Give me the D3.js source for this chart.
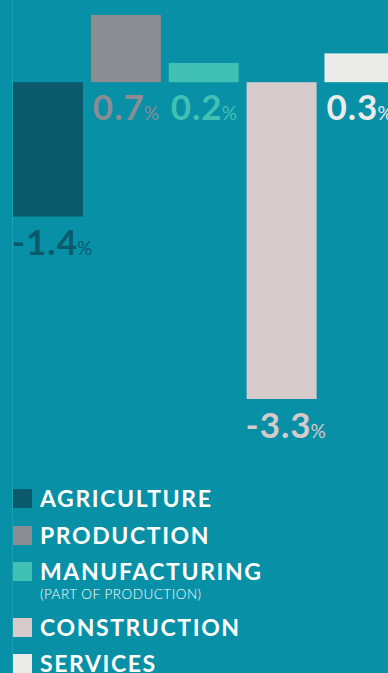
<!DOCTYPE html>
<html>
<head>
<meta charset="utf-8">
<script src="https://cdn.jsdelivr.net/npm/d3@7"></script>
<style>
  html, body { margin: 0; padding: 0; background: #0790a6; overflow: hidden; }
  svg { display: block; }
  text { font-family: Lato, "Open Sans", sans-serif; }
</style>
</head>
<body>
<div id="chart"></div>
<script>
// sector growth, percent
const sectors = ["Agriculture", "Production", "Manufacturing", "Construction", "Services"];
const growth = [-1.4, 0.7, 0.2, -3.3, 0.3];
const colours = ["#0b5a6c", "#8c8c93", "#40c1b3", "#d6cacb", "#ebebea"];
const legendNames = ["AGRICULTURE", "PRODUCTION", "MANUFACTURING", "CONSTRUCTION", "SERVICES"];
const legendNotes = ["", "", "(PART OF PRODUCTION)", "", ""];

let W = 388, H = 673;

let svg = d3.select("#chart")
    .append("svg")
    .attr("width", W)
    .attr("height", H);

svg.append("rect")
    .attr("width", W)
    .attr("height", H)
    .attr("fill", "#0790a6");

// thin lighter rule on the left
svg.append("line")
    .attr("x1", 12.5).attr("x2", 12.5)
    .attr("y1", 0).attr("y2", H)
    .attr("stroke", "#1ca1b4")
    .attr("stroke-width", 1);

let x = d3.scaleBand()
    .domain(sectors)
    .range([13, 393])
    .paddingInner(0.12)
    .paddingOuter(0);

let y = d3.scaleLinear()
    .domain([0.7, -3.3])
    .range([15, 399]);

let data = sectors.map((s, i) => ({name: s, value: growth[i], colour: colours[i]}));

svg.selectAll("rect.bar")
    .data(data)
    .join("rect")
    .attr("class", "bar")
    .attr("x", d => x(d.name))
    .attr("y", d => y(Math.max(0, d.value)))
    .attr("width", 70)
    .attr("height", d => Math.abs(y(d.value) - y(0)))
    .attr("fill", d => d.colour);

// value labels
let labels = svg.selectAll("text.val")
    .data(data)
    .join("text")
    .attr("class", "val")
    .attr("x", d => x(d.name) + (d.value < 0 ? -1 : 2))
    .attr("y", d => d.value < 0 ? y(d.value) + 38.5 : y(0) + 37.5)
    .attr("fill", d => d.colour);

labels.append("tspan")
    .attr("font-size", 35)
    .attr("font-weight", 700)
    .attr("letter-spacing", 1)
    .text(d => d.value.toFixed(1));

labels.append("tspan")
    .attr("font-size", 19)
    .attr("font-weight", 400)
    .attr("dx", -1)
    .text("%");

// legend
let rowY = [489, 526, 562, 618, 654];

let leg = svg.selectAll("g.leg")
    .data(data)
    .join("g")
    .attr("class", "leg")
    .attr("transform", (d, i) => "translate(13," + rowY[i] + ")");

leg.append("rect")
    .attr("width", 19)
    .attr("height", 19)
    .attr("fill", d => d.colour);

leg.append("text")
    .attr("x", 27)
    .attr("y", 17.5)
    .attr("fill", "#ffffff")
    .attr("font-size", 23)
    .attr("font-weight", 700)
    .attr("letter-spacing", 1.6)
    .text((d, i) => legendNames[i]);

leg.append("text")
    .attr("x", 27)
    .attr("y", 37)
    .attr("fill", "#ffffff")
    .attr("font-size", 13.5)
    .attr("font-weight", 300)
    .attr("letter-spacing", 0.5)
    .text((d, i) => legendNotes[i]);
</script>
</body>
</html>
